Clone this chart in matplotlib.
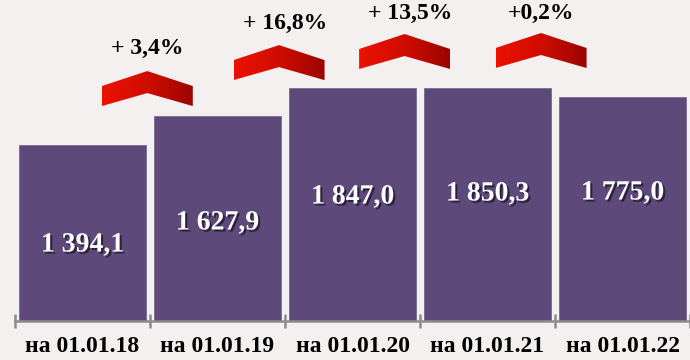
import numpy as np
import matplotlib
matplotlib.use("Agg")
import matplotlib.pyplot as plt
import matplotlib.patheffects as pe
from matplotlib.patches import Polygon

# ---- data ----
categories = ["на 01.01.18", "на 01.01.19", "на 01.01.20", "на 01.01.21", "на 01.01.22"]
values = [1394.1, 1627.9, 1847.0, 1850.3, 1775.0]
value_labels = ["1 394,1", "1 627,9", "1 847,0", "1 850,3", "1 775,0"]
growth_labels = ["+ 3,4%", "+ 16,8%", "+ 13,5%", "+0,2%"]

# ---- layout (decoration positions) ----
label_y = [603, 778, 984, 1008, 1016]          # y of value labels inside bars
chev_x = [0.48, 1.456, 2.386, 3.397]            # chevron centers (category units)
chev_peak = [1984, 2190, 2278, 2286]            # chevron peak height (data units)
growth_x = [0.48, 1.50, 2.43, 3.397]
growth_y = [2167, 2365, 2444, 2444]

BG = "#F3F0EF"
BAR = "#5D4A7B"

plt.rcParams['font.family'] = ['Liberation Serif', 'DejaVu Serif']

fig = plt.figure(figsize=(6.9, 3.6), dpi=100)
fig.patch.set_facecolor(BG)
ax = fig.add_axes([15/690, 39/360, 675/690, 321/360])
ax.set_facecolor(BG)

x = np.arange(len(categories))
ax.bar(x, values, width=0.94, color=BAR, edgecolor="#7A6A96", linewidth=0.6, zorder=2)

ax.set_xlim(-0.5, -0.5 + 675/136.5)
ax.set_ylim(0, 2548)

for xi, ly, lab in zip(x, label_y, value_labels):
    ax.text(xi, ly, lab, ha='center', va='center', color='white', fontsize=20,
            fontweight='bold', zorder=4,
            path_effects=[pe.SimplePatchShadow(offset=(1.5, -1.5), shadow_rgbFace='#1c1428', alpha=0.75),
                          pe.Normal()])

# chevrons with gradient
px_x = 1/136.5        # category units per pixel
px_y = 1/0.126        # data units per pixel
hw = 46 * px_x
grad = np.linspace(0, 1, 256).reshape(1, -1)
from matplotlib.colors import LinearSegmentedColormap
cmap = LinearSegmentedColormap.from_list("red", ["#EC1200", "#D00C00", "#9A0500"])
for cx, py in zip(chev_x, chev_peak):
    pts = [(cx - hw, py - 15*px_y), (cx, py), (cx + hw, py - 15*px_y),
           (cx + hw, py - 35*px_y), (cx, py - 22*px_y), (cx - hw, py - 35*px_y)]
    poly = Polygon(pts, closed=True, facecolor='none', edgecolor='none', transform=ax.transData)
    ax.add_patch(poly)
    im = ax.imshow(grad, cmap=cmap, aspect='auto', extent=[cx - hw, cx + hw, py - 35*px_y, py],
                   zorder=3, interpolation='bilinear')
    im.set_clip_path(poly)

for gx, gy, g in zip(growth_x, growth_y, growth_labels):
    ax.text(gx, gy, g, ha='center', va='center', color='black', fontsize=17,
            fontweight='bold', zorder=4)

ax.set_xlim(-0.5, -0.5 + 675/136.5)
ax.set_ylim(0, 2548)

for s in ['top', 'right', 'left']:
    ax.spines[s].set_visible(False)
ax.spines['bottom'].set_color('#8C8C8C')
ax.spines['bottom'].set_linewidth(1.8)
ax.spines['bottom'].set_zorder(5)
ax.set_yticks([])
ax.set_xticks(x)
ax.set_xticklabels(categories, fontsize=17, fontweight='bold')
ax.tick_params(axis='x', which='major', length=0, pad=11)
ax.set_xticks(np.arange(-0.5, len(categories) + 0.5, 1), minor=True)
ax.tick_params(axis='x', which='minor', direction='inout', length=10, width=1.8, color='#8C8C8C')

fig.savefig("out.png", dpi=100, facecolor=BG)
